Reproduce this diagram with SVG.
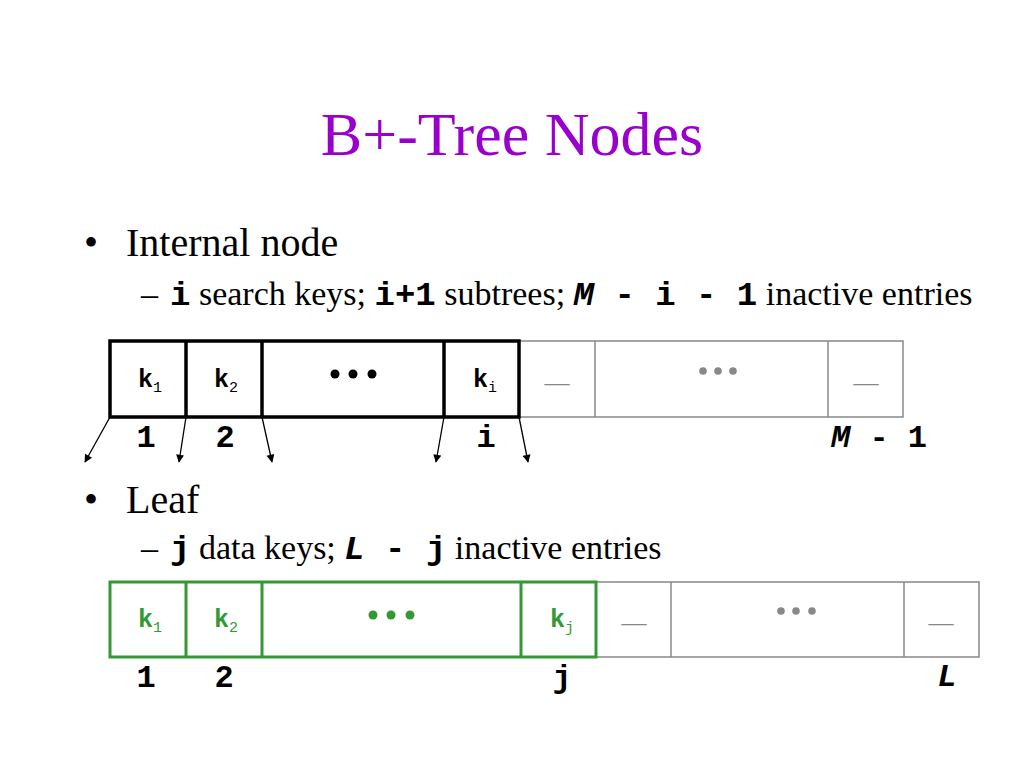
<svg xmlns="http://www.w3.org/2000/svg" width="1024" height="768" viewBox="0 0 1024 768">
<defs>
<marker id="ah" viewBox="0 0 10 10" refX="9" refY="5" markerWidth="9" markerHeight="8" markerUnits="userSpaceOnUse" orient="auto">
<path d="M0,0 L10,5 L0,10 z" fill="#000"/>
</marker>
</defs>
<style>
.title{font-family:"Liberation Serif","Times New Roman",serif;font-size:62px;fill:#9900CC}
.b1{font-family:"Liberation Serif","Times New Roman",serif;font-size:40px;fill:#000}
.b2{font-family:"Liberation Serif","Times New Roman",serif;font-size:34px;fill:#000}
.mono{font-family:"Liberation Mono","Courier New",monospace;font-weight:bold}
.it{font-style:italic}
.key{font-family:"Liberation Mono","Courier New",monospace;font-weight:bold;font-size:25px;text-anchor:middle}
.sub{font-size:15px;font-weight:normal}
.num{font-family:"Liberation Mono","Courier New",monospace;font-weight:bold;font-size:32px;fill:#000;text-anchor:middle}
.act{fill:none;stroke:#000;stroke-width:3.5}
.actg{fill:none;stroke:#339933;stroke-width:3}
.ina{fill:none;stroke:#888;stroke-width:1.5}
.dash{font-family:"Liberation Serif","Times New Roman",serif;font-size:25px;fill:#888;text-anchor:middle}
.conn{stroke:#000;stroke-width:1.3;fill:none}
</style>
<rect width="1024" height="768" fill="#fff"/>
<text class="title" x="512" y="155" text-anchor="middle">B+-Tree Nodes</text>

<text class="b1" x="84" y="256">•</text>
<text class="b1" x="126" y="256">Internal node</text>
<text class="b2" x="141" y="305">–</text>
<text class="b2" x="170" y="305"><tspan class="mono">i</tspan> search keys; <tspan class="mono">i+1</tspan> subtrees; <tspan class="mono it">M</tspan><tspan class="mono"> - i - 1</tspan> inactive entries</text>

<text class="b1" x="84" y="513">•</text>
<text class="b1" x="126" y="513">Leaf</text>
<text class="b2" x="141" y="559">–</text>
<text class="b2" x="170" y="559"><tspan class="mono">j</tspan> data keys; <tspan class="mono it">L</tspan><tspan class="mono"> - j</tspan> inactive entries</text>

<g id="internal-node">
<rect class="ina" x="519" y="341" width="384" height="76"/>
<line class="ina" x1="595" y1="341" x2="595" y2="417"/>
<line class="ina" x1="828" y1="341" x2="828" y2="417"/>
<rect class="act" x="110" y="341" width="409" height="76"/>
<line class="act" x1="186" y1="341" x2="186" y2="417"/>
<line class="act" x1="262" y1="341" x2="262" y2="417"/>
<line class="act" x1="444" y1="341" x2="444" y2="417"/>
<text class="key" x="150" y="387">k<tspan class="sub" dy="5">1</tspan></text>
<text class="key" x="226" y="387">k<tspan class="sub" dy="5">2</tspan></text>
<circle cx="335" cy="374" r="4.5"/><circle cx="353" cy="374" r="4.5"/><circle cx="372" cy="374" r="4.5"/>
<text class="key" x="485" y="387">k<tspan class="sub" dy="5">i</tspan></text>
<text class="dash" x="557" y="391">—</text>
<g fill="#888"><circle cx="703" cy="371" r="3.8"/><circle cx="718" cy="371" r="3.8"/><circle cx="733" cy="371" r="3.8"/></g>
<text class="dash" x="866" y="391">—</text>
<text class="num" x="146" y="447">1</text>
<text class="num" x="225" y="447">2</text>
<text class="num" x="486" y="447">i</text>
<text class="num" x="879" y="447"><tspan class="it">M</tspan> - 1</text>
</g>

<g id="leaf-node">
<rect class="ina" x="596" y="582" width="383" height="75"/>
<line class="ina" x1="671" y1="582" x2="671" y2="657"/>
<line class="ina" x1="904" y1="582" x2="904" y2="657"/>
<rect class="actg" x="110" y="582" width="486" height="75"/>
<line class="actg" x1="186" y1="582" x2="186" y2="657"/>
<line class="actg" x1="262" y1="582" x2="262" y2="657"/>
<line class="actg" x1="521" y1="582" x2="521" y2="657"/>
<g fill="#339933">
<text class="key" x="150" y="627">k<tspan class="sub" dy="5">1</tspan></text>
<text class="key" x="226" y="627">k<tspan class="sub" dy="5">2</tspan></text>
<circle cx="373" cy="615" r="4.5"/><circle cx="391" cy="615" r="4.5"/><circle cx="410" cy="615" r="4.5"/>
<text class="key" x="562" y="627">k<tspan class="sub" dy="5">j</tspan></text>
</g>
<text class="dash" x="634" y="631">—</text>
<g fill="#888"><circle cx="781" cy="611" r="3.8"/><circle cx="796" cy="611" r="3.8"/><circle cx="812" cy="611" r="3.8"/></g>
<text class="dash" x="941" y="631">—</text>
<text class="num" x="146" y="687">1</text>
<text class="num" x="224" y="687">2</text>
<text class="num" x="562" y="687">j</text>
<text class="num it" x="947" y="686">L</text>
</g>

<g id="connectors">
<line class="conn" x1="110" y1="417" x2="85" y2="462" marker-end="url(#ah)"/>
<line class="conn" x1="186" y1="417" x2="179" y2="462" marker-end="url(#ah)"/>
<line class="conn" x1="262" y1="417" x2="272" y2="462" marker-end="url(#ah)"/>
<line class="conn" x1="444" y1="417" x2="436" y2="462" marker-end="url(#ah)"/>
<line class="conn" x1="519" y1="417" x2="528" y2="462" marker-end="url(#ah)"/>
</g>
</svg>
